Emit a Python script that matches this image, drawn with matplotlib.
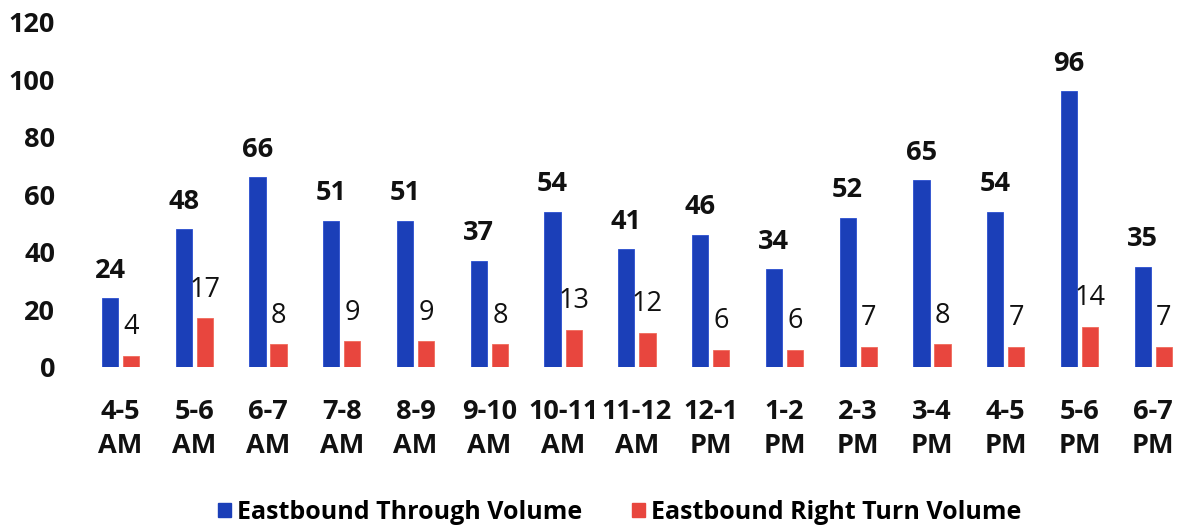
import matplotlib
matplotlib.use("Agg")
import matplotlib.pyplot as plt
import numpy as np
from matplotlib.patches import Patch

periods = ["4-5\nAM", "5-6\nAM", "6-7\nAM", "7-8\nAM", "8-9\nAM", "9-10\nAM",
           "10-11\nAM", "11-12\nAM", "12-1\nPM", "1-2\nPM", "2-3\nPM", "3-4\nPM",
           "4-5\nPM", "5-6\nPM", "6-7\nPM"]
through_volume = [24, 48, 66, 51, 51, 37, 54, 41, 46, 34, 52, 65, 54, 96, 35]
right_turn_volume = [4, 17, 8, 9, 9, 8, 13, 12, 6, 6, 7, 8, 7, 14, 7]
y_ticks = [0, 20, 40, 60, 80, 100, 120]

BLUE = "#1B3FB8"
RED = "#E8463E"
FONT = "Open Sans"
FS = 19.5

fig = plt.figure(figsize=(11.81, 5.29), dpi=100)
ax = fig.add_axes([0.0708, 0.306, 0.937, 0.652])

x = np.arange(len(periods))
width = 0.22
offset = 0.143
ax.bar(x - offset, through_volume, width, color=BLUE, edgecolor="#2a4fd0", linewidth=0.6)
ax.bar(x + offset, right_turn_volume, width, color=RED, edgecolor="#f06a5a", linewidth=0.6)

for xi, v in zip(x, through_volume):
    ax.annotate(str(v), (xi - offset, v), xytext=(0, 10.5), textcoords="offset points",
                ha="center", va="bottom", fontsize=FS, fontweight="bold",
                family=FONT, color="#111111")
for xi, v in zip(x, right_turn_volume):
    ax.annotate(str(v), (xi + offset, v), xytext=(0, 10.5), textcoords="offset points",
                ha="center", va="bottom", fontsize=FS, family=FONT, color="#111111")

ax.set_xlim(-0.5, len(periods) - 0.5)
ax.set_ylim(0, 120)
ax.set_yticks(y_ticks)
ax.set_yticklabels([str(t) for t in y_ticks], fontsize=FS, fontweight="bold",
                   family=FONT, color="#111111")
ax.set_xticks(x)
ax.set_xticklabels(periods, fontsize=FS, fontweight="bold", family=FONT,
                   color="#111111", linespacing=1.38)
ax.tick_params(axis="both", length=0)
ax.tick_params(axis="y", pad=20.5)
ax.tick_params(axis="x", pad=23)
for s in ax.spines.values():
    s.set_visible(False)

handles = [Patch(facecolor=BLUE, edgecolor=BLUE), Patch(facecolor=RED, edgecolor=RED)]
fig.legend(handles, ["Eastbound Through Volume", "Eastbound Right Turn Volume"],
           loc="center", bbox_to_anchor=(0.525, 0.032), ncol=2, frameon=False,
           handlelength=0.5, handleheight=0.5, handletextpad=0.25,
           columnspacing=2.0, prop={"family": FONT, "weight": "bold", "size": 18})

fig.savefig("out.png", dpi=100, facecolor="white")
